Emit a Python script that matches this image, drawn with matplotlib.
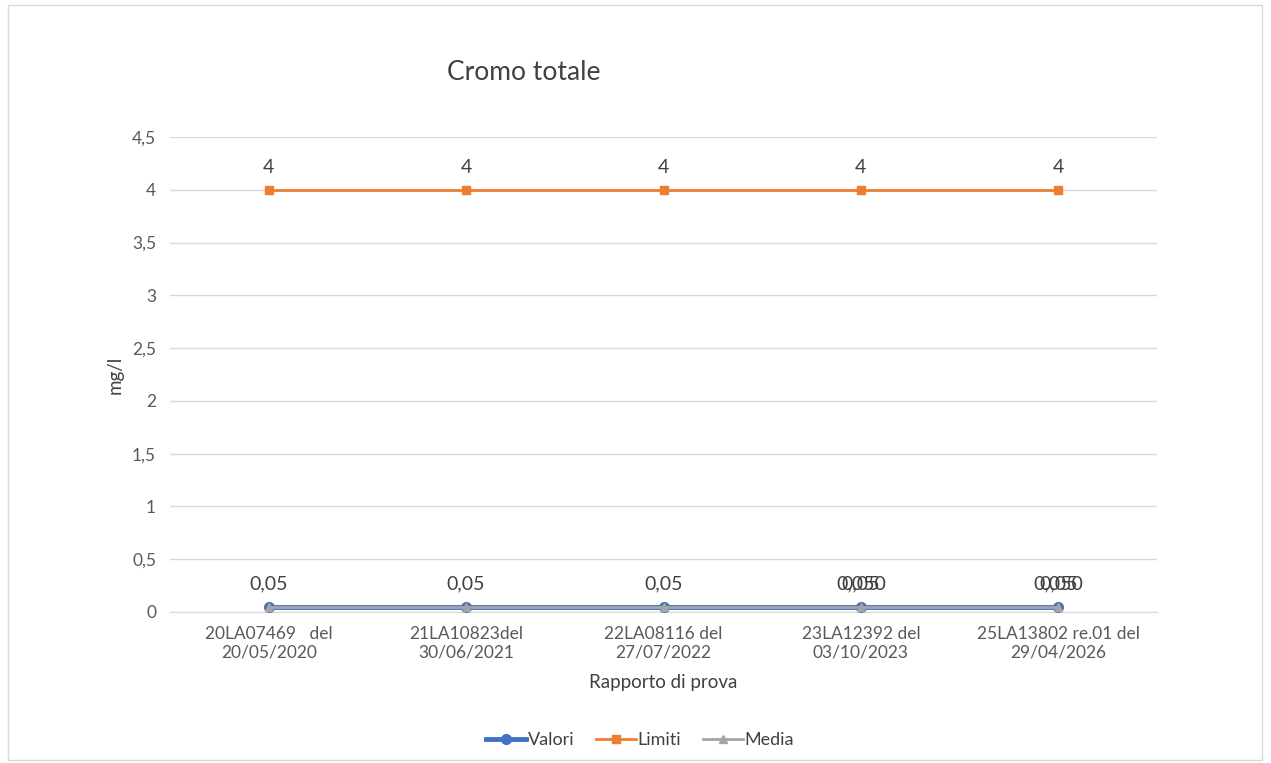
import matplotlib
matplotlib.use("Agg")
import matplotlib.pyplot as plt
from matplotlib.patches import Rectangle

plt.rcParams['font.family'] = ['Lato', 'DejaVu Sans']

categories = ["20LA07469   del\n20/05/2020", "21LA10823del\n30/06/2021",
              "22LA08116 del\n27/07/2022", "23LA12392 del\n03/10/2023",
              "25LA13802 re.01 del\n29/04/2026"]
valori = [0.05, 0.05, 0.05, 0.05, 0.05]
limiti = [4, 4, 4, 4, 4]
media = [0.05, 0.05, 0.05, 0.05, 0.05]
yticks = [0, 0.5, 1, 1.5, 2, 2.5, 3, 3.5, 4, 4.5]

def fmt(v):
    s = ("%g" % v).replace(".", ",")
    return s

fig = plt.figure(figsize=(12.71, 7.63), dpi=100)
ax = fig.add_axes([170/1271, 1 - 612/763, 987/1271, 475/763])

# outer chart border
fig.patches.append(Rectangle((8/1271, 3/763), 1254/1271, 755/763, transform=fig.transFigure,
                             fill=False, edgecolor="#d9d9d9", linewidth=1))

x = list(range(len(categories)))
ax.plot(x, valori, color="#4472C4", linewidth=3.5, marker="o", markersize=7, label="Valori", zorder=3)
ax.plot(x, limiti, color="#ED7D31", linewidth=2, marker="s", markersize=6, label="Limiti", zorder=3)
ax.plot(x, media, color="#A5A5A5", linewidth=2, marker="^", markersize=6, label="Media", zorder=4)

# data labels (the last two overlap in the original too)
for i in x:
    ax.annotate(fmt(limiti[i]), (i, limiti[i]), xytext=(0, 10), textcoords="offset points",
                ha="center", va="bottom", fontsize=14, color="#404040")
    ax.annotate(fmt(valori[i]), (i, valori[i]), xytext=(0, 10), textcoords="offset points",
                ha="center", va="bottom", fontsize=14, color="#404040")
for i in x[3:]:
    ax.annotate("0,050", (i, media[i]), xytext=(0, 10), textcoords="offset points",
                ha="center", va="bottom", fontsize=14, color="#404040")

ax.set_xlim(-0.5, 4.5)
ax.set_ylim(0, 4.5)
ax.set_yticks(yticks)
ax.set_yticklabels([fmt(t) for t in yticks], fontsize=12.5, color="#595959")
ax.set_xticks(x)
ax.set_xticklabels(categories, fontsize=12.5, color="#595959")
ax.tick_params(axis="both", length=0, pad=10)
ax.grid(axis="y", color="#d9d9d9", linewidth=1)
ax.set_axisbelow(True)
for s in ["top", "right", "left"]:
    ax.spines[s].set_visible(False)
ax.spines["bottom"].set_color("#d9d9d9")

ax.set_ylabel("mg/l", fontsize=13.5, color="#404040", labelpad=6)
ax.set_xlabel("Rapporto di prova", fontsize=13.5, color="#404040", labelpad=10)

fig.text(524/1271, 1 - 72/763, "Cromo totale", fontsize=19, color="#404040", ha="center", va="center")

fig.legend(loc="center", bbox_to_anchor=(640/1271, 1 - 740/763), ncol=3, frameon=False,
           fontsize=13, handlelength=2.2, columnspacing=1.2, handletextpad=0.1, labelcolor="#404040")

fig.savefig("out.png", dpi=100, facecolor="white")
